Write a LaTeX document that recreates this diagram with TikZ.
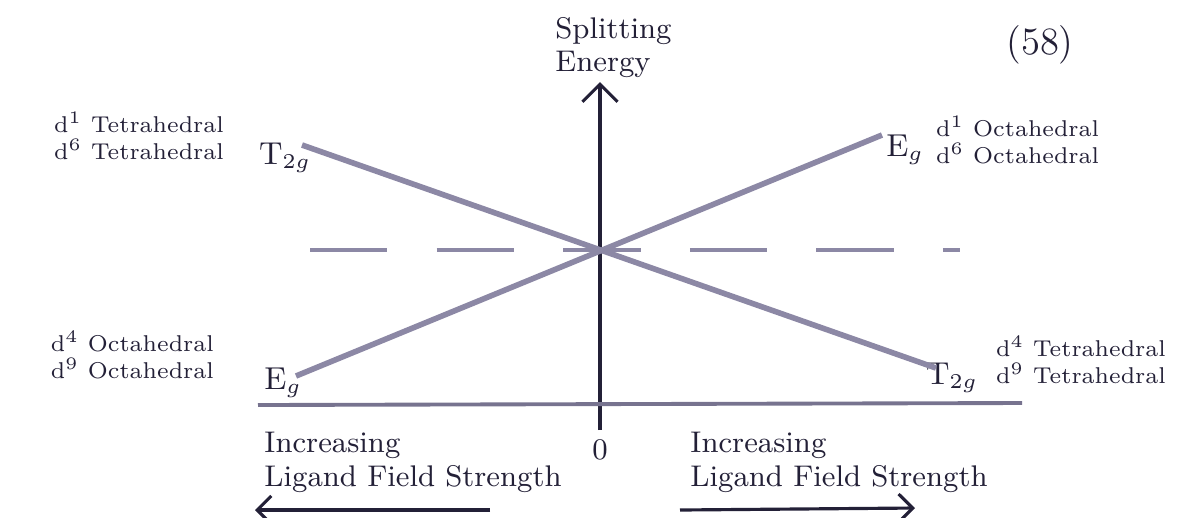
\documentclass[tikz,border=0pt]{standalone}
\usepackage{amsmath}
\usepackage{xcolor}
\usetikzlibrary{arrows.meta}
\definecolor{pencil}{RGB}{140,136,165}
\definecolor{ink}{RGB}{35,32,55}
\begin{document}
\begin{tikzpicture}
		[x=0.01cm,y=-0.01cm, font=\fontsize{8.5}{9.5}\selectfont, text=ink,
		level/.style={pencil, line width=1.6pt},
		axis/.style={ink, line width=0.9pt},
		conf/.style={font=\fontsize{6.5}{7.5}\selectfont, align=left, inner sep=1pt},
		term/.style={font=\fontsize{9}{10}\selectfont, inner sep=1pt}]
		\useasboundingbox (0,0) rectangle (1193,517);
		% axes
		\coordinate (o) at (600,430);
		\coordinate (top) at (600,82);
		\draw[axis,-{Straight Barb[length=5pt]}] (o) -- (top);
		\draw[pencil!80!ink, line width=1.1pt] (258,405) -- (1022,403);
		\node (se) [align=left, anchor=south west] at (543,90) {Splitting\\Energy};
		\node (zero) at (600,450) {0};
		\node (page) at (1040,45) {\fontsize{11}{12}\selectfont(58)};
		% terms
		\node[term] (tl) at (285,158) {T$_{2g}$};
		\node[term] (el) at (283,383) {E$_g$};
		\node[term] (er) at (905,150) {E$_g$};
		\node[term] (tr) at (952,378) {T$_{2g}$};
		\node[conf, anchor=east] (cl1) at (228,136) {d$^1$ Tetrahedral\\d$^6$ Tetrahedral};
		\node[conf, anchor=east] (cl2) at (218,355) {d$^4$ Octahedral\\d$^9$ Octahedral};
		\node[conf, anchor=west] (cr1) at (932,140) {d$^1$ Octahedral\\d$^6$ Octahedral};
		\node[conf, anchor=west] (cr2) at (992,360) {d$^4$ Tetrahedral\\d$^9$ Tetrahedral};
		% levels
		\coordinate (a1) at (302,145);
		\coordinate (a2) at (936,368);
		\coordinate (b1) at (296,376);
		\coordinate (b2) at (882,135);
		\draw[level] (a1) -- (a2);
		\draw[level] (b1) -- (b2);
		\draw[level, line width=1.3pt, dash pattern=on 22pt off 14pt] (310,250) -- (960,250);
		% field strength
		\node (il) [align=left, anchor=north west] at (252,420) {Increasing\\Ligand Field Strength};
		\node (ir) [align=left, anchor=north west] at (678,420) {Increasing\\Ligand Field Strength};
		\coordinate (l1) at (490,510);
		\coordinate (l2) at (255,510);
		\coordinate (r1) at (680,510);
		\coordinate (r2) at (915,508);
		\draw[axis,-{Straight Barb[length=4pt]}] (l1) -- (l2);
		\draw[axis,-{Straight Barb[length=4pt]}] (r1) -- (r2);
	\end{tikzpicture}
\end{document}
